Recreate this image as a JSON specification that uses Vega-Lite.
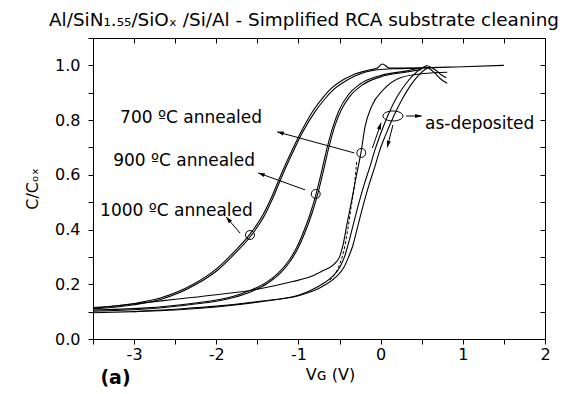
{
  "$schema": "https://vega.github.io/schema/vega-lite/v6.json",
  "width": 452,
  "height": 301,
  "autosize": {"type": "none"},
  "padding": {"left": 93, "top": 38, "right": 23, "bottom": 55},
  "background": "white",
  "title": {"text": "Al/SiN₁.₅₅/SiOₓ /Si/Al - Simplified RCA substrate cleaning", "font": "DejaVu Sans", "fontSize": 18.4, "fontWeight": "normal", "color": "black", "anchor": "middle", "frame": "group", "baseline": "alphabetic", "offset": -14, "dx": -15},
  "datasets": {
    "curves": [
      {"s": "1000a", "x": -3.5, "y": 0.115}, {"s": "1000a", "x": -3.0, "y": 0.13}, {"s": "1000a", "x": -2.68, "y": 0.15}, {"s": "1000a", "x": -2.28, "y": 0.2}, {"s": "1000a", "x": -1.99, "y": 0.258}, {"s": "1000a", "x": -1.8, "y": 0.313}, {"s": "1000a", "x": -1.59, "y": 0.383}, {"s": "1000a", "x": -1.43, "y": 0.455}, {"s": "1000a", "x": -1.31, "y": 0.53}, {"s": "1000a", "x": -1.22, "y": 0.595}, {"s": "1000a", "x": -1.1, "y": 0.675}, {"s": "1000a", "x": -0.98, "y": 0.75}, {"s": "1000a", "x": -0.82, "y": 0.835}, {"s": "1000a", "x": -0.7, "y": 0.883}, {"s": "1000a", "x": -0.61, "y": 0.913}, {"s": "1000a", "x": -0.45, "y": 0.948}, {"s": "1000a", "x": -0.34, "y": 0.965}, {"s": "1000a", "x": -0.15, "y": 0.982}, {"s": "1000a", "x": -0.04, "y": 0.99}, {"s": "1000a", "x": 0.02, "y": 1.005}, {"s": "1000a", "x": 0.11, "y": 0.99}, {"s": "1000a", "x": 0.39, "y": 0.99}, {"s": "1000a", "x": 0.6, "y": 0.992},
      {"s": "1000b", "x": -3.5, "y": 0.11}, {"s": "1000b", "x": -3.0, "y": 0.125}, {"s": "1000b", "x": -2.66, "y": 0.146}, {"s": "1000b", "x": -2.26, "y": 0.197}, {"s": "1000b", "x": -1.97, "y": 0.255}, {"s": "1000b", "x": -1.78, "y": 0.31}, {"s": "1000b", "x": -1.57, "y": 0.38}, {"s": "1000b", "x": -1.41, "y": 0.453}, {"s": "1000b", "x": -1.29, "y": 0.53}, {"s": "1000b", "x": -1.2, "y": 0.595}, {"s": "1000b", "x": -1.08, "y": 0.675}, {"s": "1000b", "x": -0.96, "y": 0.75}, {"s": "1000b", "x": -0.8, "y": 0.83}, {"s": "1000b", "x": -0.68, "y": 0.877}, {"s": "1000b", "x": -0.59, "y": 0.907}, {"s": "1000b", "x": -0.43, "y": 0.942}, {"s": "1000b", "x": -0.32, "y": 0.96}, {"s": "1000b", "x": -0.04, "y": 0.984}, {"s": "1000b", "x": 0.2, "y": 0.988}, {"s": "1000b", "x": 0.5, "y": 0.99},
      {"s": "900a", "x": -3.5, "y": 0.106}, {"s": "900a", "x": -2.9, "y": 0.113}, {"s": "900a", "x": -2.3, "y": 0.13}, {"s": "900a", "x": -1.8, "y": 0.155}, {"s": "900a", "x": -1.59, "y": 0.177}, {"s": "900a", "x": -1.4, "y": 0.205}, {"s": "900a", "x": -1.25, "y": 0.24}, {"s": "900a", "x": -1.12, "y": 0.285}, {"s": "900a", "x": -1.02, "y": 0.335}, {"s": "900a", "x": -0.94, "y": 0.39}, {"s": "900a", "x": -0.86, "y": 0.455}, {"s": "900a", "x": -0.79, "y": 0.525}, {"s": "900a", "x": -0.72, "y": 0.61}, {"s": "900a", "x": -0.65, "y": 0.7}, {"s": "900a", "x": -0.57, "y": 0.785}, {"s": "900a", "x": -0.5, "y": 0.84}, {"s": "900a", "x": -0.4, "y": 0.89}, {"s": "900a", "x": -0.25, "y": 0.932}, {"s": "900a", "x": 0.0, "y": 0.963}, {"s": "900a", "x": 0.32, "y": 0.98}, {"s": "900a", "x": 0.48, "y": 0.99}, {"s": "900a", "x": 1.0, "y": 0.995}, {"s": "900a", "x": 1.5, "y": 1.0},
      {"s": "900b", "x": -3.5, "y": 0.102}, {"s": "900b", "x": -2.9, "y": 0.109}, {"s": "900b", "x": -2.3, "y": 0.126}, {"s": "900b", "x": -1.8, "y": 0.151}, {"s": "900b", "x": -1.57, "y": 0.174}, {"s": "900b", "x": -1.38, "y": 0.203}, {"s": "900b", "x": -1.23, "y": 0.238}, {"s": "900b", "x": -1.1, "y": 0.284}, {"s": "900b", "x": -1.0, "y": 0.335}, {"s": "900b", "x": -0.92, "y": 0.39}, {"s": "900b", "x": -0.84, "y": 0.455}, {"s": "900b", "x": -0.77, "y": 0.525}, {"s": "900b", "x": -0.7, "y": 0.61}, {"s": "900b", "x": -0.63, "y": 0.7}, {"s": "900b", "x": -0.55, "y": 0.785}, {"s": "900b", "x": -0.48, "y": 0.837}, {"s": "900b", "x": -0.38, "y": 0.885}, {"s": "900b", "x": -0.23, "y": 0.927}, {"s": "900b", "x": 0.0, "y": 0.958}, {"s": "900b", "x": 0.3, "y": 0.975}, {"s": "900b", "x": 0.5, "y": 0.985},
      {"s": "700", "x": -3.5, "y": 0.112}, {"s": "700", "x": -3.0, "y": 0.128}, {"s": "700", "x": -2.5, "y": 0.145}, {"s": "700", "x": -2.0, "y": 0.162}, {"s": "700", "x": -1.5, "y": 0.182}, {"s": "700", "x": -1.07, "y": 0.21}, {"s": "700", "x": -0.85, "y": 0.228}, {"s": "700", "x": -0.7, "y": 0.25}, {"s": "700", "x": -0.58, "y": 0.27}, {"s": "700", "x": -0.5, "y": 0.3}, {"s": "700", "x": -0.46, "y": 0.34}, {"s": "700", "x": -0.41, "y": 0.42}, {"s": "700", "x": -0.35, "y": 0.51}, {"s": "700", "x": -0.3, "y": 0.59}, {"s": "700", "x": -0.24, "y": 0.68}, {"s": "700", "x": -0.19, "y": 0.775}, {"s": "700", "x": -0.11, "y": 0.85}, {"s": "700", "x": 0.03, "y": 0.91}, {"s": "700", "x": 0.24, "y": 0.955}, {"s": "700", "x": 0.52, "y": 0.97}, {"s": "700", "x": 0.81, "y": 0.975},
      {"s": "asA", "x": -3.0, "y": 0.1}, {"s": "asA", "x": -2.5, "y": 0.109}, {"s": "asA", "x": -2.0, "y": 0.12}, {"s": "asA", "x": -1.5, "y": 0.137}, {"s": "asA", "x": -1.0, "y": 0.16}, {"s": "asA", "x": -0.77, "y": 0.19}, {"s": "asA", "x": -0.6, "y": 0.225}, {"s": "asA", "x": -0.5, "y": 0.26}, {"s": "asA", "x": -0.44, "y": 0.3}, {"s": "asA", "x": -0.4, "y": 0.34}, {"s": "asA", "x": -0.34, "y": 0.41}, {"s": "asA", "x": -0.28, "y": 0.48}, {"s": "asA", "x": -0.2, "y": 0.565}, {"s": "asA", "x": -0.13, "y": 0.63}, {"s": "asA", "x": -0.07, "y": 0.69}, {"s": "asA", "x": 0.0, "y": 0.75}, {"s": "asA", "x": 0.1, "y": 0.825}, {"s": "asA", "x": 0.2, "y": 0.885}, {"s": "asA", "x": 0.3, "y": 0.93}, {"s": "asA", "x": 0.4, "y": 0.965}, {"s": "asA", "x": 0.5, "y": 0.99}, {"s": "asA", "x": 0.57, "y": 1.0},
      {"s": "asB", "x": -3.5, "y": 0.096}, {"s": "asB", "x": -3.0, "y": 0.1}, {"s": "asB", "x": -2.5, "y": 0.106}, {"s": "asB", "x": -2.0, "y": 0.117}, {"s": "asB", "x": -1.37, "y": 0.14}, {"s": "asB", "x": -0.98, "y": 0.16}, {"s": "asB", "x": -0.72, "y": 0.19}, {"s": "asB", "x": -0.55, "y": 0.225}, {"s": "asB", "x": -0.45, "y": 0.26}, {"s": "asB", "x": -0.39, "y": 0.3}, {"s": "asB", "x": -0.34, "y": 0.34}, {"s": "asB", "x": -0.28, "y": 0.41}, {"s": "asB", "x": -0.22, "y": 0.48}, {"s": "asB", "x": -0.14, "y": 0.565}, {"s": "asB", "x": -0.07, "y": 0.63}, {"s": "asB", "x": -0.01, "y": 0.69}, {"s": "asB", "x": 0.06, "y": 0.745}, {"s": "asB", "x": 0.16, "y": 0.815}, {"s": "asB", "x": 0.26, "y": 0.875}, {"s": "asB", "x": 0.36, "y": 0.925}, {"s": "asB", "x": 0.45, "y": 0.96}, {"s": "asB", "x": 0.54, "y": 0.985}, {"s": "asB", "x": 0.6, "y": 0.995},
      {"s": "tip1", "x": 0.56, "y": 0.995}, {"s": "tip1", "x": 0.65, "y": 0.975}, {"s": "tip1", "x": 0.73, "y": 0.95}, {"s": "tip1", "x": 0.81, "y": 0.935},
      {"s": "tip2", "x": 0.58, "y": 0.998}, {"s": "tip2", "x": 0.66, "y": 0.985}, {"s": "tip2", "x": 0.74, "y": 0.965}, {"s": "tip2", "x": 0.8, "y": 0.955}
    ],
    "dashed": [
      {"x": -0.62, "y": 0.215}, {"x": -0.52, "y": 0.258}, {"x": -0.45, "y": 0.32}, {"x": -0.4, "y": 0.4}, {"x": -0.36, "y": 0.48}, {"x": -0.32, "y": 0.56}, {"x": -0.29, "y": 0.65}
    ],
    "circles": [
      {"x": -1.59, "y": 0.38}, {"x": -0.79, "y": 0.53}, {"x": -0.235, "y": 0.68}
    ],
    "ellipse": [{"x": 0.15, "y": 0.815}],
    "arrows": [
      {"x": -0.32, "y": 0.68, "x2": -1.26, "y2": 0.757, "ang": -74.7},
      {"x": -0.92, "y": 0.545, "x2": -1.49, "y2": 0.607, "ang": -70.1},
      {"x": -1.71, "y": 0.387, "x2": -1.88, "y2": 0.446, "ang": -41},
      {"x": 0.31, "y": 0.815, "x2": 0.5, "y2": 0.815, "ang": 90},
      {"x": -0.1, "y": 0.698, "x2": 0.005, "y2": 0.79, "ang": 18.8},
      {"x": 0.15, "y": 0.782, "x2": 0.08, "y2": 0.7, "ang": -165.6}
    ],
    "labels": [
      {"x": -3.17, "y": 0.789, "t": "700 ºC annealed"},
      {"x": -3.255, "y": 0.632, "t": "900 ºC annealed"},
      {"x": -3.414, "y": 0.45, "t": "1000 ºC annealed"},
      {"x": 0.54, "y": 0.768, "t": "as-deposited"}
    ],
    "panel": [{"x": -3.41, "y": -0.164, "t": "(a)"}]
  },
  "layer": [
    {
      "data": {"name": "curves"},
      "mark": {"type": "line", "color": "black", "strokeWidth": 1.1, "interpolate": "monotone"},
      "encoding": {
        "x": {"field": "x", "type": "quantitative", "scale": {"domain": [-3.5, 2], "nice": false, "zero": false},
          "axis": {"orient": "bottom", "values": [-3.5, -3, -2.5, -2, -1.5, -1, -0.5, 0, 0.5, 1, 1.5, 2], "labelExpr": "datum.value == round(datum.value) ? (datum.value < 0 ? '-' + abs(datum.value) : '' + datum.value) : ''", "tickSize": 5, "labelPadding": 2, "labelFlush": false, "labelOverlap": false, "title": "Vɢ (V)", "titlePadding": 4, "titleX": 237}},
        "y": {"field": "y", "type": "quantitative", "scale": {"domain": [0, 1.1], "nice": false, "zero": false},
          "axis": {"orient": "left", "values": [0, 0.1, 0.2, 0.3, 0.4, 0.5, 0.6, 0.7, 0.8, 0.9, 1.0, 1.1], "labelExpr": "round(datum.value * 10) % 2 == 0 ? format(datum.value, '.1f') : ''", "tickSize": 5, "labelPadding": 8, "labelFlush": false, "labelOverlap": false, "title": "C/Cₒₓ", "titlePadding": 14}},
        "detail": {"field": "s", "type": "nominal"}
      }
    },
    {
      "data": {"name": "dashed"},
      "mark": {"type": "line", "color": "black", "strokeWidth": 1, "strokeDash": [3, 2], "interpolate": "monotone"},
      "encoding": {
        "x": {"field": "x", "type": "quantitative", "scale": {"domain": [-3.5, 2], "nice": false, "zero": false}, "axis": null},
        "y": {"field": "y", "type": "quantitative", "scale": {"domain": [0, 1.1], "nice": false, "zero": false}, "axis": null}
      }
    },
    {
      "data": {"name": "circles"},
      "mark": {"type": "point", "shape": "circle", "filled": false, "size": 80, "color": "black", "strokeWidth": 1, "opacity": 1},
      "encoding": {
        "x": {"field": "x", "type": "quantitative", "scale": {"domain": [-3.5, 2], "nice": false, "zero": false},
          "axis": {"orient": "top", "values": [-3.5, -3, -2.5, -2, -1.5, -1, -0.5, 0, 0.5, 1, 1.5, 2], "labels": false, "tickSize": -5, "title": null}},
        "y": {"field": "y", "type": "quantitative", "scale": {"domain": [0, 1.1], "nice": false, "zero": false},
          "axis": {"orient": "right", "values": [0, 0.1, 0.2, 0.3, 0.4, 0.5, 0.6, 0.7, 0.8, 0.9, 1.0, 1.1], "labels": false, "tickSize": -5, "title": null}}
      }
    },
    {
      "data": {"name": "ellipse"},
      "mark": {"type": "point", "shape": "M-1,0A1,0.5,0,1,1,1,0A1,0.5,0,1,1,-1,0Z", "filled": false, "size": 400, "color": "black", "strokeWidth": 1, "opacity": 1},
      "encoding": {
        "x": {"field": "x", "type": "quantitative", "scale": {"domain": [-3.5, 2], "nice": false, "zero": false}, "axis": null},
        "y": {"field": "y", "type": "quantitative", "scale": {"domain": [0, 1.1], "nice": false, "zero": false}, "axis": null}
      }
    },
    {
      "data": {"name": "arrows"},
      "mark": {"type": "rule", "color": "black", "strokeWidth": 1},
      "encoding": {
        "x": {"field": "x", "type": "quantitative", "scale": {"domain": [-3.5, 2], "nice": false, "zero": false}, "axis": null},
        "y": {"field": "y", "type": "quantitative", "scale": {"domain": [0, 1.1], "nice": false, "zero": false}, "axis": null},
        "x2": {"field": "x2"},
        "y2": {"field": "y2"}
      }
    },
    {
      "data": {"name": "arrows"},
      "mark": {"type": "point", "shape": "M0,0L0.7,2.2L-0.7,2.2Z", "filled": true, "size": 36, "color": "black", "opacity": 1},
      "encoding": {
        "x": {"field": "x2", "type": "quantitative", "scale": {"domain": [-3.5, 2], "nice": false, "zero": false}, "axis": null},
        "y": {"field": "y2", "type": "quantitative", "scale": {"domain": [0, 1.1], "nice": false, "zero": false}, "axis": null},
        "angle": {"field": "ang", "type": "quantitative", "scale": null}
      }
    },
    {
      "data": {"name": "labels"},
      "mark": {"type": "text", "font": "DejaVu Sans", "fontSize": 17, "align": "left", "baseline": "alphabetic", "color": "black"},
      "encoding": {
        "x": {"field": "x", "type": "quantitative", "scale": {"domain": [-3.5, 2], "nice": false, "zero": false}, "axis": null},
        "y": {"field": "y", "type": "quantitative", "scale": {"domain": [0, 1.1], "nice": false, "zero": false}, "axis": null},
        "text": {"field": "t"}
      }
    },
    {
      "data": {"name": "panel"},
      "mark": {"type": "text", "font": "DejaVu Sans", "fontSize": 19, "fontWeight": "bold", "align": "left", "baseline": "alphabetic", "color": "black"},
      "encoding": {
        "x": {"field": "x", "type": "quantitative", "scale": {"domain": [-3.5, 2], "nice": false, "zero": false}, "axis": null},
        "y": {"field": "y", "type": "quantitative", "scale": {"domain": [0, 1.1], "nice": false, "zero": false}, "axis": null},
        "text": {"field": "t"}
      }
    }
  ],
  "resolve": {"axis": {"x": "independent", "y": "independent"}},
  "config": {
    "view": {"stroke": null},
    "axis": {"grid": false, "domainColor": "black", "tickColor": "black", "labelColor": "black", "titleColor": "black", "labelFont": "DejaVu Sans", "titleFont": "DejaVu Sans", "labelFontSize": 16, "titleFontSize": 16, "titleFontWeight": "normal", "domainWidth": 1, "tickWidth": 1}
  }
}
